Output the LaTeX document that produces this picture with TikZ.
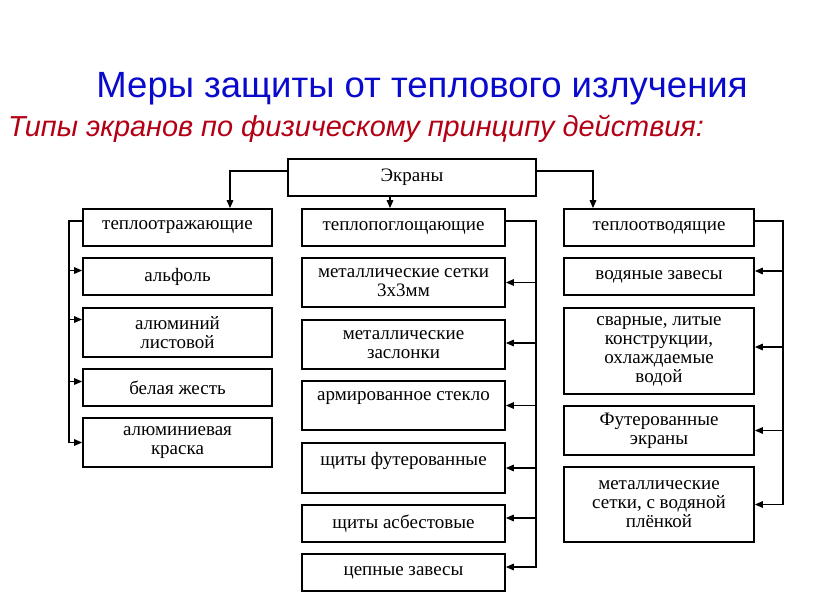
\documentclass[tikz,border=0pt]{standalone}
\usepackage{fontspec}
\setmainfont{Liberation Serif}
\newfontfamily\titlefont{Liberation Sans}
\usetikzlibrary{arrows.meta,calc}
\definecolor{titleblue}{RGB}{10,10,205}
\definecolor{subred}{RGB}{180,0,20}
\begin{document}
\begin{tikzpicture}[x=1pt,y=-1pt,
  box/.style={draw, line width=1.7pt, inner sep=0pt, align=center,
    font=\fontsize{19}{19}\selectfont, minimum height=#1},
  box/.default=37pt,
  colL/.style={minimum width=189pt},
  colM/.style={minimum width=203pt},
  colR/.style={minimum width=190pt},
  conn/.style={line width=1.5pt},
  arr/.style={line width=1.5pt, -{Triangle[length=8pt,width=6.5pt]}}]
\useasboundingbox (0,0) rectangle (816,613);
\fill[white] (0,0) rectangle (816,613);
% titles
\node[font=\titlefont\fontsize{36.5}{40}\selectfont, text=titleblue, anchor=base] (title) at (422,97) {Меры защиты от теплового излучения};
\node[font=\titlefont\itshape\fontsize{28.9}{32}\selectfont, text=subred, anchor=base west, inner sep=0pt] (sub) at (8,136) {Типы экранов по физическому принципу действия:};
% root
\node[box, minimum width=248pt] (root) at (412,177.5) {Экраны};
% left column
\node[box, colL] (L0) at (177.5,227.5) {теплоотражающие};
\node[box, colL] (L1) at (177.5,276.5) {альфоль};
\node[box=49pt, colL] (L2) at (177.5,332.5) {алюминий\\листовой};
\node[box, colL] (L3) at (177.5,387.5) {белая жесть};
\node[box=49pt, colL] (L4) at (177.5,442.5) {алюминиевая\\краска};
% middle column
\node[box, colM] (M0) at (403.5,227.5) {теплопоглощающие};
\node[box=49pt, colM] (M1) at (403.5,282.5) {металлические сетки\\3х3мм};
\node[box=49pt, colM] (M2) at (403.5,344.5) {металлические\\заслонки};
\node[box=49pt, colM] (M3) at (403.5,405.5) {армированное стекло\\\mbox{}};
\node[box=50pt, colM] (M4) at (403.5,468) {щиты футерованные\\\mbox{}};
\node[box, colM] (M5) at (403.5,523.5) {щиты асбестовые};
\node[box, colM] (M6) at (403.5,572.5) {цепные завесы};
% right column
\node[box, colR] (R0) at (659,227.5) {теплоотводящие};
\node[box, colR] (R1) at (659,276.5) {водяные завесы};
\node[box=86pt, colR] (R2) at (659,351) {сварные, литые\\конструкции,\\охлаждаемые\\водой};
\node[box=49pt, colR] (R3) at (659,430.5) {Футерованные\\экраны};
\node[box=75pt, colR] (R4) at (659,504.5) {металлические\\сетки, с водяной\\плёнкой};
% bus coordinates
\coordinate (lb) at (69,221);
\coordinate (mb) at (536,221);
\coordinate (rb) at (783,221);
\coordinate (ta) at (230,171);
\coordinate (tc) at (593,171);
% top connectors
\draw[arr] ([yshift=6.5pt]root.west) -- (ta) -- (ta |- L0.north);
\draw[arr] ([yshift=6.5pt]root.east) -- (tc) -- (tc |- R0.north);
\draw[arr] ([xshift=-22pt]root.south) -- ([xshift=-22pt]root.south |- M0.north);
% left bus
\draw[conn] ([yshift=6.5pt]L0.west) -- (lb) -- ([yshift=-0.7pt]lb |- L4.west);
\draw[arr] ([yshift=6pt]L1.west -| lb) -- ([yshift=6pt]L1.west);
\draw[arr] ([yshift=13pt]L2.west -| lb) -- ([yshift=13pt]L2.west);
\draw[arr] ([yshift=6pt]L3.west -| lb) -- ([yshift=6pt]L3.west);
\draw[arr] (L4.west -| lb) -- (L4.west);
% middle bus
\draw[conn] ([yshift=6.5pt]M0.east) -- (mb) -- ([yshift=4.8pt]mb |- M6.east);
\draw[arr] (M1.east -| mb) -- (M1.east);
\draw[arr] ([yshift=1.5pt]M2.east -| mb) -- ([yshift=1.5pt]M2.east);
\draw[arr] (M3.east -| mb) -- (M3.east);
\draw[arr] (M4.east -| mb) -- (M4.east);
\draw[arr] ([yshift=5.5pt]M5.east -| mb) -- ([yshift=5.5pt]M5.east);
\draw[arr] ([yshift=5.5pt]M6.east -| mb) -- ([yshift=5.5pt]M6.east);
% right bus
\draw[conn] ([yshift=6.5pt]R0.east) -- (rb) -- ([yshift=-0.7pt]rb |- R4.east);
\draw[arr] ([yshift=5.5pt]R1.east -| rb) -- ([yshift=5.5pt]R1.east);
\draw[arr] ([yshift=4pt]R2.east -| rb) -- ([yshift=4pt]R2.east);
\draw[arr] (R3.east -| rb) -- (R3.east);
\draw[arr] (R4.east -| rb) -- (R4.east);
\end{tikzpicture}
\end{document}
